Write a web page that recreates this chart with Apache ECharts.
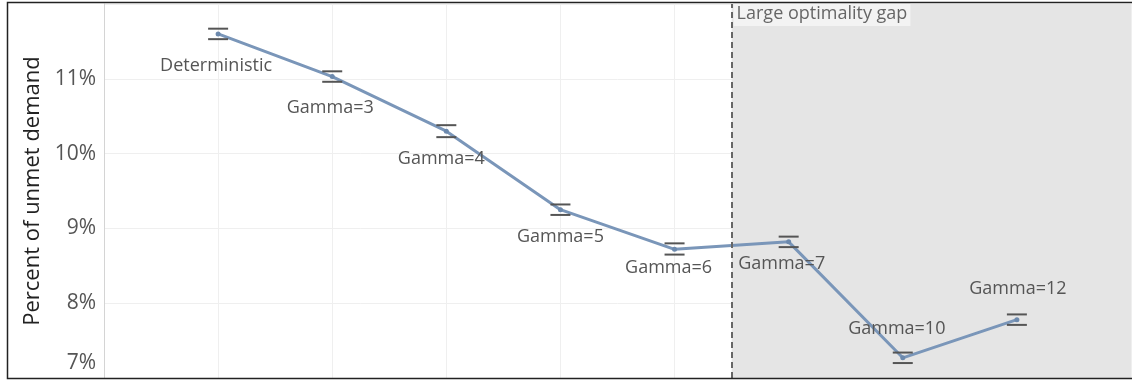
<!DOCTYPE html>
<html>
<head>
<meta charset="utf-8">
<script src="https://cdn.jsdelivr.net/npm/echarts@6/dist/echarts.min.js"></script>
<style>
  html, body { margin: 0; padding: 0; background: #ffffff; }
  #chart { width: 1132px; height: 381px; }
</style>
</head>
<body>
<div id="chart"></div>
<script>
// Scenario labels and their position on the horizontal scale
const scenarios = ['Deterministic', 'Gamma=3', 'Gamma=4', 'Gamma=5', 'Gamma=6', 'Gamma=7', 'Gamma=10', 'Gamma=12'];
const scenarioPos = [1, 2, 3, 4, 5, 6, 7, 8];
// Mean percent of unmet demand and its interval bounds
const unmetMean = [11.60, 11.03, 10.30, 9.25, 8.72, 8.82, 7.27, 7.78];
const unmetLow  = [11.53, 10.96, 10.22, 9.18, 8.65, 8.75, 7.20, 7.71];
const unmetHigh = [11.67, 11.10, 10.38, 9.32, 8.80, 8.89, 7.34, 7.85];
// Axis ticks (percent)
const yTicks = [7, 8, 9, 10, 11];
// Region where the solver reports a large optimality gap
const gapStart = 5.5;
const gapLabel = 'Large optimality gap';

// label placement around each point, in pixels
const labelShift = [[-2, 32], [-2, 31], [-5, 28], [0, 27], [-6, 19], [-7, 22], [-6, -29], [1, -31]];

const FONT = '"Open Sans", "Noto Sans", sans-serif';
const chart = echarts.init(document.getElementById('chart'), null, { renderer: 'canvas' });

const lineData = scenarioPos.map((x, i) => ({
  value: [x, unmetMean[i]],
  name: scenarios[i],
  label: { offset: labelShift[i] }
}));
const errData = scenarioPos.map((x, i) => [x, unmetLow[i], unmetHigh[i]]);

const option = {
  animation: false,
  backgroundColor: '#ffffff',
  grid: { left: 104, right: 1, top: 4, bottom: 3, containLabel: false },
  xAxis: {
    type: 'value', min: 0, max: 9, interval: 1,
    axisLine: { show: false }, axisTick: { show: false }, axisLabel: { show: false },
    splitLine: { show: true, lineStyle: { color: '#efefef', width: 1 } }
  },
  yAxis: {
    type: 'value', min: 7, max: 12, interval: 1,
    name: 'Percent of unmet demand',
    nameLocation: 'middle', nameRotate: 90, nameGap: 59,
    nameTextStyle: { fontFamily: FONT, fontSize: 22, color: '#222' },
    axisLine: { show: true, lineStyle: { color: '#d4d4d4', width: 1 } },
    axisTick: { show: false },
    axisLabel: {
      fontFamily: FONT, fontSize: 21, color: '#555', margin: 8,
      showMaxLabel: false,
      formatter: v => {
        if (yTicks.indexOf(v) < 0) return '';
        return v === yTicks[0] ? '{low|' + v + '%}' : v + '%';
      },
      rich: { low: { fontFamily: FONT, fontSize: 21, color: '#555', padding: [0, 0, 30, 0] } }
    },
    splitLine: { show: true, lineStyle: { color: '#efefef', width: 1 } }
  },
  series: [
    {
      type: 'line',
      data: lineData,
      z: 3,
      symbol: 'circle', symbolSize: 5,
      itemStyle: { color: '#6c89ad' },
      lineStyle: { color: '#7a96b9', width: 3 },
      label: {
        show: true, position: 'inside',
        formatter: p => p.name,
        fontFamily: FONT, fontSize: 18, color: '#555'
      },
      markArea: {
        silent: true,
        itemStyle: { color: '#e5e5e5' },
        label: {
          show: true, position: 'insideTopLeft', distance: 0,
          fontFamily: FONT, fontSize: 18, color: '#666',
          backgroundColor: '#f3f3f3', padding: [2, 3, 3, 3],
          offset: [2, -1]
        },
        data: [[{ xAxis: gapStart, yAxis: 12, name: gapLabel }, { xAxis: 9, yAxis: 7 }]]
      },
      markLine: {
        silent: true, symbol: 'none', label: { show: false },
        lineStyle: { color: '#666', type: [6, 4], width: 2 },
        data: [{ xAxis: gapStart }]
      }
    },
    {
      type: 'custom',
      z: 4,
      data: errData,
      renderItem: (params, api) => {
        const x = api.value(0);
        const lo = api.coord([x, api.value(1)]);
        const hi = api.coord([x, api.value(2)]);
        const half = 10;
        const style = { stroke: '#555', lineWidth: 2 };
        return {
          type: 'group',
          children: [
            { type: 'line', shape: { x1: lo[0] - half, y1: lo[1], x2: lo[0] + half, y2: lo[1] }, style },
            { type: 'line', shape: { x1: hi[0] - half, y1: hi[1], x2: hi[0] + half, y2: hi[1] }, style }
          ]
        };
      }
    }
  ],
  graphic: [
    // outer frame: top, left and bottom edges
    { type: 'polyline', silent: true, z: 100,
      shape: { points: [[1132, 2.5], [7.5, 2.5], [7.5, 378.5], [1132, 378.5]] },
      style: { stroke: '#222', lineWidth: 1.5, fill: null } }
  ]
};

chart.setOption(option);
</script>
</body>
</html>
